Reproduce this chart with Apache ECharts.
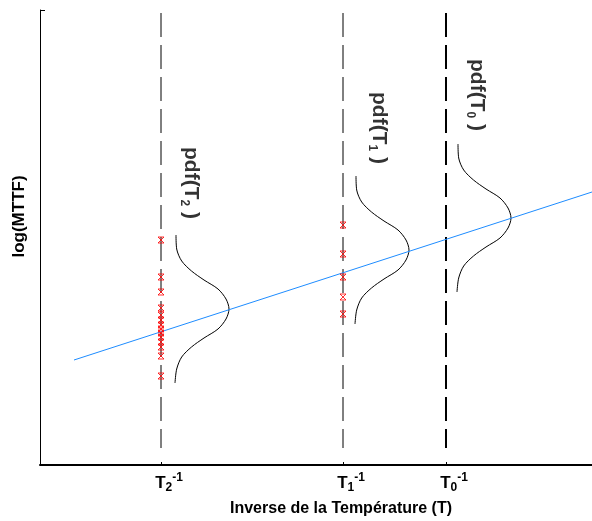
<!DOCTYPE html>
<html>
<head>
<meta charset="utf-8">
<script src="https://cdn.jsdelivr.net/npm/echarts@6/dist/echarts.min.js"></script>
<style>
  html, body { margin: 0; padding: 0; background: #fff; }
  #chart { width: 592px; height: 521px; }
</style>
</head>
<body>
<div id="chart"></div>
<script>
// axis units: x from left axis, y from bottom axis
const tempTicks = [121, 303, 406];           // T2^-1, T1^-1, T0^-1
const tickSubs = ['2', '1', '0'];
const fitLine = [[34, 105], [552, 273]];     // blue regression line
const failuresT2 = [225, 188, 173, 157, 150, 145, 140, 136, 132, 128, 123, 118, 109, 89];
const failuresT1 = [240, 211, 188, 168, 151];
// pdf shape: [offset above centre, width to the right]
const pdfProfile = [[74, 1], [60, 1.7], [48, 6.7], [38, 16.5], [29, 29], [20, 43], [10, 51],
  [0, 54], [-10, 51], [-20, 43], [-29, 29], [-38, 16.5], [-48, 6.7], [-60, 1.7], [-74, 0]];
const pdfBase = [135, 315, 417];    // baseline of each pdf curve
const pdfCentre = [156, 215, 247];  // centre height of each pdf curve
const pdfLabelPos = [[151, 282], [339, 337], [437, 370]];
const dashTop = 452, dashBottom = 17;

const black = '#000';
const font = 'Liberation Sans, Arial, sans-serif';

const series = [];

tempTicks.forEach((x, i) => {
  series.push({
    type: 'line', symbol: 'none', silent: true,
    data: [[x, dashTop], [x, dashBottom]],
    lineStyle: { color: black, width: i === 2 ? 2 : 1, type: [24, 8] },
    z: 1
  });
});

series.push({
  type: 'line', symbol: 'none', silent: true,
  data: fitLine,
  lineStyle: { color: '#1e8cff', width: 1 },
  z: 3
});

[failuresT2, failuresT1].forEach((ys, i) => {
  series.push({
    type: 'scatter',
    symbol: 'path://M0,0L10,10M10,0L0,10M0,0L10,0M0,10L10,10',
    symbolSize: 6,
    itemStyle: { color: 'none', borderColor: '#ff0000', borderWidth: 1 },
    data: ys.map(y => [tempTicks[i], y]),
    z: 4
  });
});

pdfBase.forEach((bx, i) => {
  series.push({
    type: 'line', symbol: 'none', silent: true, smooth: 0.3,
    data: pdfProfile.map(p => [bx + p[1], pdfCentre[i] + p[0]]),
    lineStyle: { color: black, width: 1 },
    z: 2
  });
});

series.push({
  type: 'scatter', symbolSize: 0, silent: true,
  data: pdfLabelPos.map((p, i) => ({ value: p, sub: tickSubs[i] })),
  label: {
    show: true, position: 'inside', rotate: -90,
    formatter: p => '{a|pdf(T}{s|' + p.data.sub + '}{a| )}',
    rich: {
      a: { fontSize: 21, fontWeight: 'bold', fontFamily: font, color: black },
      s: { fontSize: 12, fontWeight: 'bold', fontFamily: font, color: black, verticalAlign: 'bottom', padding: [14, 0, 0, 0] }
    }
  }
});

const chart = echarts.init(document.getElementById('chart'));
chart.setOption({
  animation: false,
  backgroundColor: '#fff',
  grid: { left: 40, right: 0, top: 10, bottom: 56, outerBoundsMode: 'none', containLabel: false },
  xAxis: {
    type: 'value', min: 0, max: 552,
    splitLine: { show: false },
    axisLine: { show: true, onZero: false, lineStyle: { color: black, width: 2 } },
    axisTick: { show: true, inside: true, length: 3, customValues: tempTicks, lineStyle: { color: black } },
    axisLabel: {
      show: true, customValues: tempTicks, margin: 7,
      padding: [0, 0, 0, 16],
      formatter: v => '{t|T}{s|' + tickSubs[tempTicks.indexOf(v)] + '}{p|-1}',
      rich: {
        t: { fontSize: 17, fontWeight: 'bold', fontFamily: font, color: black },
        s: { fontSize: 12, fontWeight: 'bold', fontFamily: font, color: black, verticalAlign: 'bottom', padding: [10, 0, 0, 0] },
        p: { fontSize: 12, fontWeight: 'bold', fontFamily: font, color: black, verticalAlign: 'top', padding: [0, 0, 8, 0] }
      }
    },
    name: 'Inverse de la Température (T)',
    nameLocation: 'middle', nameGap: 36,
    nameTextStyle: { fontSize: 16, fontWeight: 'bold', fontFamily: font, color: black, padding: [0, 0, 0, 50] }
  },
  yAxis: {
    type: 'value', min: 0, max: 455, interval: 455,
    splitLine: { show: false },
    axisLine: { show: true, onZero: false, lineStyle: { color: black, width: 1 } },
    axisTick: { show: true, inside: true, length: 5, lineStyle: { color: black } },
    axisLabel: { show: false },
    name: 'log(MTTF)',
    nameLocation: 'middle', nameGap: 12, nameRotate: 90,
    nameTextStyle: { fontSize: 17, fontWeight: 'bold', fontFamily: font, color: black, padding: [0, 0, 0, 42] }
  },
  series: series
});
</script>
</body>
</html>
